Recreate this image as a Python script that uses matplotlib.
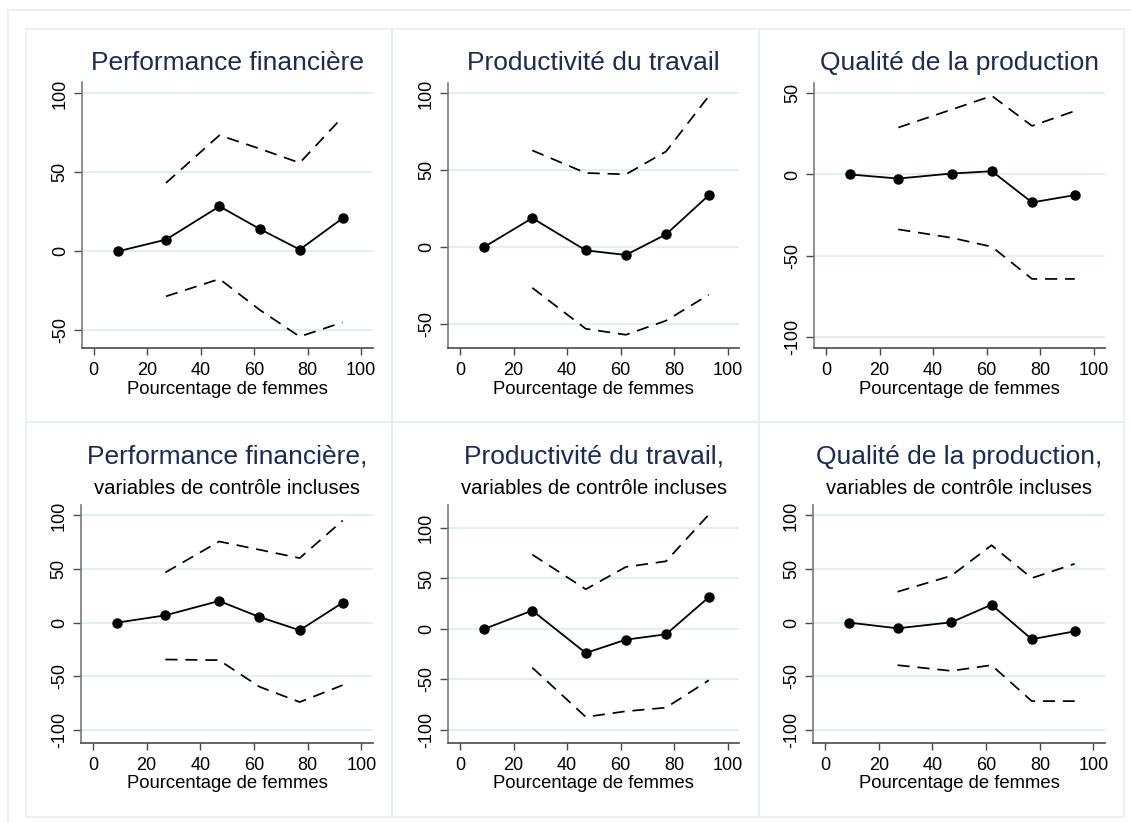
import matplotlib.pyplot as plt
from matplotlib.patches import Rectangle

plt.rcParams['font.family'] = ['Liberation Sans', 'DejaVu Sans']
plt.rcParams['axes.unicode_minus'] = False

# ------------------ données ------------------
pct_femmes = [9, 27, 47, 62, 77, 93]
pct_ic = [27, 47, 62, 77, 93]

perf_fin = [0, 7.4, 28.5, 14.2, 1.1, 20.9]
perf_fin_haut = [43.3, 73.5, 65, 56, 85]
perf_fin_bas = [-28.5, -17.5, -37, -54, -45]

prod_trav = [0, 18.8, -2.2, -5.2, 8.2, 33.7]
prod_trav_haut = [62.9, 48.2, 47.3, 62.2, 98.3]
prod_trav_bas = [-26.6, -53.3, -57.2, -48, -31.1]

qual_prod = [0, -2.5, 0.6, 2.0, -17.2, -12.7]
qual_prod_haut = [28.9, 40, 48.4, 29.9, 39.1]
qual_prod_bas = [-33.8, -39, -44.5, -64.3, -64.3]

perf_fin_ctrl = [0, 6.8, 20.2, 5.3, -7.1, 18.6]
perf_fin_ctrl_haut = [46.8, 75.7, 68, 60.2, 95.2]
perf_fin_ctrl_bas = [-34.4, -35, -59.8, -74.1, -58.3]

prod_trav_ctrl = [0, 18.2, -23.8, -10.6, -5.3, 31.4]
prod_trav_ctrl_haut = [73.6, 39.3, 61.4, 67, 113.2]
prod_trav_ctrl_bas = [-38.3, -87.1, -81.5, -77.9, -50.8]

qual_prod_ctrl = [0, -5.3, 0.3, 16.7, -15.5, -8.1]
qual_prod_ctrl_haut = [28.8, 43.7, 72.2, 41.5, 54.9]
qual_prod_ctrl_bas = [-39.7, -45, -39.7, -73.2, -73.2]

titres = ["Performance financière", "Productivité du travail", "Qualité de la production",
          "Performance financière,", "Productivité du travail,", "Qualité de la production,"]
sous_titre = "variables de contrôle incluses"
x_ticks = [0, 20, 40, 60, 80, 100]
y_ticks = [[-50, 0, 50, 100], [-50, 0, 50, 100], [-100, -50, 0, 50],
           [-100, -50, 0, 50, 100], [-100, -50, 0, 50, 100], [-100, -50, 0, 50, 100]]
y_lims = [(-61.4, 107.4), (-66, 107), (-107, 56.5),
          (-112, 110), (-112.6, 123), (-112, 110)]
# -------------------------------------------------------------------

series = [
    (perf_fin, perf_fin_haut, perf_fin_bas),
    (prod_trav, prod_trav_haut, prod_trav_bas),
    (qual_prod, qual_prod_haut, qual_prod_bas),
    (perf_fin_ctrl, perf_fin_ctrl_haut, perf_fin_ctrl_bas),
    (prod_trav_ctrl, prod_trav_ctrl_haut, prod_trav_ctrl_bas),
    (qual_prod_ctrl, qual_prod_ctrl_haut, qual_prod_ctrl_bas),
]

W, H = 1131, 823
fig = plt.figure(figsize=(W / 100, H / 100), dpi=100)
fig.patch.set_facecolor("white")

def fx(px):
    return px / W

def fy(py):
    return 1 - py / H

BORD = "#e8efef"
TITRE = "#1c2b55"

# cadre extérieur + cadres des panneaux
fig.add_artist(Rectangle((fx(8), fy(830)), fx(1140 - 8), fy(10) - fy(830),
                         transform=fig.transFigure, fill=False, ec=BORD, lw=1.2))
cols = [(26, 392), (392, 759), (759, 1124)]
rows = [(29, 422), (422, 817)]
for (y0, y1) in rows:
    for (x0, x1) in cols:
        fig.add_artist(Rectangle((fx(x0), fy(y1)), fx(x1 - x0), fy(y0) - fy(y1),
                                 transform=fig.transFigure, fill=False, ec=BORD, lw=1.2))

# boîtes des axes (pixels)
boites = [(82, 373, 81.7, 348.3), (448.3, 739.3, 82.7, 348.3), (814.3, 1105.3, 82.7, 348.3),
          (81, 373.3, 504.7, 742.7), (448.3, 739.3, 504.7, 742.7), (813.3, 1105.3, 504.7, 742.7)]

for i, ((y, haut, bas), (x0, x1, y0, y1)) in enumerate(zip(series, boites)):
    ax = fig.add_axes([fx(x0), fy(y1), fx(x1 - x0), fy(y0) - fy(y1)])
    ax.plot(pct_femmes, y, color="black", lw=1.3, marker="o", ms=6.5, zorder=3)
    ax.plot(pct_ic, haut, color="black", lw=1.25, dashes=(7, 4.5), zorder=2)
    ax.plot(pct_ic, bas, color="black", lw=1.25, dashes=(7, 4.5), zorder=2)

    ax.set_xlim(-4.4, 104.4)
    ax.set_ylim(*y_lims[i])
    ax.set_xticks(x_ticks)
    ax.set_yticks(y_ticks[i])
    ax.grid(axis="y", color="#e4eef0", lw=1.4)
    ax.set_axisbelow(True)
    for s in ["top", "right"]:
        ax.spines[s].set_visible(False)
    ax.spines["left"].set_color("#7a7a7a")
    ax.spines["bottom"].set_color("#4a4a4a")
    ax.spines["left"].set_linewidth(1.2)
    ax.spines["bottom"].set_linewidth(1.2)
    ax.tick_params(axis="x", length=5, width=1.0, color="#4a4a4a", labelsize=13, pad=5)
    ax.tick_params(axis="y", length=5.5, width=1.0, color="#4a4a4a", labelsize=13, pad=4)
    for lab in ax.get_yticklabels():
        lab.set_rotation(90)
        lab.set_va("center")
    ax.set_xlabel("Pourcentage de femmes", fontsize=13.3, labelpad=1)

    cx = fx((x0 + x1) / 2)
    if i < 3:
        fig.text(cx, fy(63), titres[i], fontsize=19, color=TITRE, ha="center", va="center")
    else:
        fig.text(cx, fy(456.7), titres[i], fontsize=19, color=TITRE, ha="center", va="center")
        fig.text(cx, fy(488.3), sous_titre, fontsize=14.6, color="black", ha="center", va="center")

fig.savefig("out.png", dpi=100)
